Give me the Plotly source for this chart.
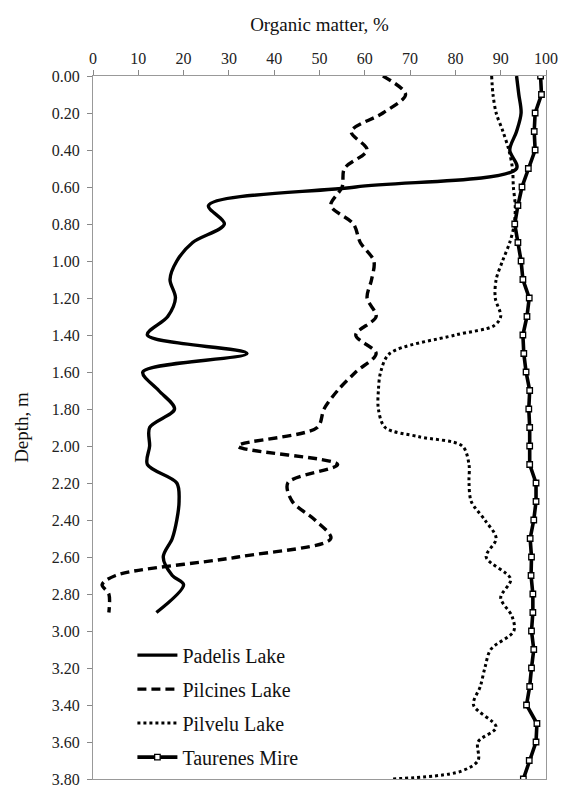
import plotly.graph_objects as go

# ---------------- data ----------------
padelis_depth = [0.00, 0.10, 0.20, 0.30, 0.40, 0.50, 0.60, 0.70, 0.80, 0.90, 1.00, 1.10, 1.20, 1.30,
                 1.40, 1.50, 1.60, 1.70, 1.80, 1.90, 2.00, 2.10, 2.20, 2.30, 2.40, 2.50, 2.60, 2.70,
                 2.75, 2.90]
padelis_om = [93.5, 94, 94.5, 93.5, 92, 93.5, 58, 25.5, 29, 22, 18.5, 17, 18.2, 16.5,
              12, 34, 11, 14.5, 18, 12.5, 12.5, 12, 18.5, 19, 18.5, 17.5, 15.5, 17.5,
              20, 14]

pilcines_depth = [0.00, 0.10, 0.20, 0.30, 0.40, 0.50, 0.60, 0.70, 0.80, 0.90, 1.00, 1.10, 1.20,
                  1.30, 1.40, 1.50, 1.60, 1.70, 1.80, 1.90, 2.00, 2.10, 2.20, 2.30, 2.40, 2.50,
                  2.60, 2.70, 2.75, 2.80, 2.90]
pilcines_om = [64, 69, 64, 57, 60.5, 55.5, 55, 52.5, 57.5, 59, 62, 61.5, 60.5,
               62.5, 58, 62.5, 58, 54, 51, 49.5, 32, 54, 43, 44, 49, 52.5,
               32, 5, 2, 3.5, 3.5]

pilvelu_depth = [0.00, 0.10, 0.20, 0.30, 0.40, 0.50, 0.60, 0.70, 0.80, 0.90, 1.00, 1.10, 1.20,
                 1.30, 1.35, 1.40, 1.50, 1.60, 1.70, 1.80, 1.90, 1.95, 2.00, 2.10, 2.20, 2.30,
                 2.40, 2.50, 2.60, 2.72, 2.82, 2.92, 3.00, 3.10, 3.20, 3.30, 3.40, 3.52, 3.60,
                 3.70, 3.76, 3.80]
pilvelu_om = [88, 88.3, 89, 90.5, 91.8, 92.6, 92.8, 93.2, 93, 92, 90.4, 89, 88.8,
              90, 88.5, 80, 65.5, 63.5, 63, 63, 64.5, 72, 81.5, 83, 83, 83.5,
              86.5, 89, 86.8, 92.2, 90, 92.5, 92.9, 87.8, 86.5, 85.5, 84, 89, 85,
              85, 81, 66]

taurenes_depth = [round(i * 0.1, 2) for i in range(39)]
taurenes_om = [98.8, 99, 97.6, 97.4, 97.6, 96.1, 94.7, 93.8, 93.1, 93.8, 94.5, 94.9, 96.3,
               95.8, 94.9, 95.1, 95.6, 96.4, 96.2, 96.4, 96.4, 96.4, 97.8, 97.8, 97.3, 96.5,
               96.8, 96.7, 97.1, 97.1, 96.8, 97.3, 96.8, 96.4, 95.7, 98, 97.8, 96.3, 95]

y_ticks = [round(i * 0.2, 2) for i in range(20)]
x_ticks = list(range(0, 101, 10))

FONT = "Liberation Serif"

fig = go.Figure()
fig.add_trace(go.Scatter(x=padelis_om, y=padelis_depth, name="Padelis Lake", mode="lines",
                         legendgroup="a",
                         line=dict(color="black", width=3.4, shape="spline", smoothing=0.9)))
fig.add_trace(go.Scatter(x=pilcines_om, y=pilcines_depth, name="Pilcines Lake", mode="lines",
                         legendgroup="b",
                         line=dict(color="black", width=3.4, shape="spline", smoothing=0.9,
                                   dash="9px,5px")))
fig.add_trace(go.Scatter(x=pilvelu_om, y=pilvelu_depth, name="Pilvelu Lake", mode="lines",
                         legendgroup="c",
                         line=dict(color="black", width=3, shape="spline", smoothing=0.9,
                                   dash="3px,3px")))
fig.add_trace(go.Scatter(x=taurenes_om, y=taurenes_depth, name="Taurenes Mire", mode="lines+markers",
                         legendgroup="d",
                         line=dict(color="black", width=3.6),
                         marker=dict(symbol="square", size=5.5, color="white",
                                     line=dict(color="black", width=1.3))))

fig.update_layout(
    width=570, height=800,
    margin=dict(l=93, r=14, t=76, b=13),
    paper_bgcolor="white", plot_bgcolor="white",
    font=dict(family=FONT, color="#222", size=16),
    legend=dict(x=0.087, y=0.204, xanchor="left", yanchor="top",
                font=dict(family=FONT, size=20, color="#111"),
                bgcolor="rgba(255,255,255,0)", tracegroupgap=5, itemwidth=40),
    showlegend=True,
)
fig.update_xaxes(
    side="top", range=[0, 100], tickvals=x_ticks, ticks="outside", ticklen=5,
    tickcolor="#888", linecolor="#999", linewidth=1, showline=True, showgrid=False,
    zeroline=False, mirror=True, tickfont=dict(family=FONT, size=16, color="#222"),
    title=dict(text="Organic matter, %", font=dict(family=FONT, size=19, color="#111"),
               standoff=12),
)
fig.update_yaxes(
    range=[3.8, 0], tickvals=y_ticks, tickformat=".2f", ticks="outside", ticklen=5,
    tickcolor="#888", linecolor="#999", linewidth=1, showline=True, showgrid=False,
    zeroline=False, mirror=True, tickfont=dict(family=FONT, size=16, color="#222"),
    ticklabelstandoff=4,
    title=dict(text="Depth, m", font=dict(family=FONT, size=19, color="#111"), standoff=18),
)
fig.write_html("out.html")
